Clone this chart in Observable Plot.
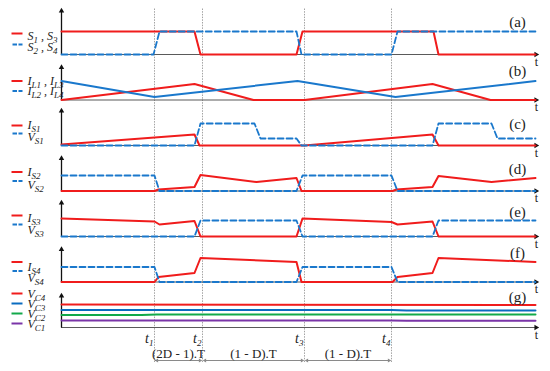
<!DOCTYPE html>
<html>
<head>
<meta charset="utf-8">
<script src="https://cdn.jsdelivr.net/npm/d3@7"></script>
<script src="https://cdn.jsdelivr.net/npm/@observablehq/plot@0.6"></script>
<style>
  html, body { margin: 0; padding: 0; background: #fff; }
  #chart svg { display: block; }
  #chart svg text { font-family: "Liberation Serif", "DejaVu Serif", serif; }
</style>
</head>
<body>
<div id="chart"></div>
<script>
// ---------- data (time in arbitrary units, levels in arbitrary units above each baseline) ----------
const panels = ["(a)", "(b)", "(c)", "(d)", "(e)", "(f)", "(g)"];

// (a) gate signals
const s13 = [[0,23],[133,23],[139,0],[235,0],[241,23],[372,23],[377,0],[474,0]];
const s24 = [[0,0],[92,0],[98,23],[235,23],[240,0],[330,0],[336,23],[474,23]];
// (b) inductor currents
const iL13 = [[0,0],[133,16],[192,0],[243,0],[371,16],[429,0],[474,0]];
const iL24 = [[0,19],[93,3],[236,19],[334,3],[474,19]];
// (c) switch 1
const iS1 = [[0,1],[133,11],[138,0],[243,0],[371,11],[377,0],[474,0]];
const vS1 = [[0,0],[133,0],[139,22],[193,22],[199,7],[235,7],[240,0],[371,0],[377,22],[430,22],[436,7],[474,7]];
// (d) switch 2
const iS2 = [[0,0],[93,0],[97,1.5],[133,4],[139,16],[195,9],[235,13],[240,0],[331,0],[335,1.5],[371,4],[377,15],[430,9],[474,13]];
const vS2 = [[0,15.5],[93,15.5],[98,0],[235,0],[241,15.5],[330,15.5],[336,0],[474,0]];
// (e) switch 3
const iS3 = [[0,18],[93,15],[98,12],[133,15.5],[139,0],[235,0],[241,18],[330,14.5],[336,12],[371,15],[377,0],[474,0]];
const vS3 = [[0,0],[133,0],[139,16],[235,16],[241,0],[371,0],[377,16],[474,16]];
// (f) switch 4
const iS4 = [[0,0],[93,0],[97,5],[133,9],[139,24],[235,20],[240,0],[331,0],[336,5],[371,9],[377,24],[474,20]];
const vS4 = [[0,15],[93,15],[98,0],[235,0],[241,15],[330,15],[336,0],[474,0]];
// (g) capacitor voltages
const vC4 = [[0,23],[474,22.5]];
const vC3 = [[0,17.5],[330,17.5],[345,17],[474,17]];
const vC2 = [[0,12.5],[80,12.5],[95,13],[474,13]];
const vC1 = [[0,7],[330,7],[345,6.7],[474,6.7]];

// time instants and intervals
const markerNames = ["t_{1}", "t_{2}", "t_{3}", "t_{4}"];
const markerTimes = [93, 141, 243, 330];
const intervalLabels = ["(2D - 1).T", "(1 - D).T", "(1 - D).T"];

// legend labels per panel
const legendLabels = [
  ["S_{1} , S_{3}", "S_{2} , S_{4}"],
  ["I_{L1} , I_{L3}", "I_{L2} , I_{L4}"],
  ["I_{S1}", "V_{S1}"],
  ["I_{S2}", "V_{S2}"],
  ["I_{S3}", "V_{S3}"],
  ["I_{S4}", "V_{S4}"],
  ["V_{C4}", "V_{C3}", "V_{C2}", "V_{C1}"]
];

// ---------- styling ----------
const RED = "#f01c1c", BLUE = "#1a78cc", DBLUE = "#0a6cc0", GREEN = "#12a94a", PURPLE = "#7a35a8";
const legendLineLevels = [[21,10],[19,9],[20,12],[19,10],[21,12],[20,11],[34,24,14,4]];
const legendTextLevels = [[18.5,7.5],[19,8.5],[20,8],[19,6],[18,6],[15,4],[33,23,13,3]];
const panelLabelLevels = [32, 29, 21, 22, 24, 29, 30];
const axisTops = [45, 34, 36, 34, 35, 34, 33];

const seriesDefs = [
  ["(a)", s13, RED, false], ["(a)", s24, BLUE, true],
  ["(b)", iL13, RED, false], ["(b)", iL24, BLUE, false],
  ["(c)", iS1, RED, false], ["(c)", vS1, BLUE, true],
  ["(d)", iS2, RED, false], ["(d)", vS2, BLUE, true],
  ["(e)", iS3, RED, false], ["(e)", vS3, BLUE, true],
  ["(f)", iS4, RED, false], ["(f)", vS4, BLUE, true],
  ["(g)", vC4, RED, false], ["(g)", vC3, DBLUE, false], ["(g)", vC2, GREEN, false], ["(g)", vC1, PURPLE, false]
];
const rows = seriesDefs.flatMap(([panel, pts, color, dashed], k) =>
  pts.map(([t, v]) => ({panel, t, v, key: k, color, dashed})));

const legendColors = [[RED, BLUE],[RED, BLUE],[RED, BLUE],[RED, BLUE],[RED, BLUE],[RED, BLUE],[RED, DBLUE, GREEN, PURPLE]];
const legendDashed = [[false, true],[false, true],[false, true],[false, true],[false, true],[false, true],[false,false,false,false]];
const legendRows = panels.flatMap((panel, i) => legendLabels[i].map((label, j) => ({
  panel, label, level: legendLineLevels[i][j], textLevel: legendTextLevels[i][j],
  color: legendColors[i][j], dashed: legendDashed[i][j]
})));

const markerRows = markerNames.map((name, i) => ({name, t: markerTimes[i]}));
const intervalRows = intervalLabels.map((label, i) => ({label, t1: markerTimes[i], t2: markerTimes[i + 1]}));
const panelRows = panels.map((p, i) => ({panel: p, level: panelLabelLevels[i], top: axisTops[i]}));

const G = () => "(g)";
const SERIF = "Liberation Serif";

const plot = Plot.plot({
  width: 550,
  height: 371,
  marginTop: 8.5,
  marginBottom: 44,
  marginLeft: 61,
  marginRight: 12,
  facet: {marginTop: 0, marginRight: 0, marginBottom: 0, marginLeft: 0},
  x: {domain: [0, 477], axis: null},
  y: {domain: [0, 45.5], axis: null},
  fy: {domain: panels, padding: 0, round: false, axis: null, label: null},
  color: {type: "identity"},
  style: {background: "white", fontFamily: SERIF, overflow: "visible"},
  marks: [
    // dotted time instants
    Plot.ruleX(markerTimes, {x: d => d, stroke: "#a3a3a3", strokeWidth: 1, strokeDasharray: "1.5,1.2"}),
    Plot.ruleX(markerTimes, {x: d => d, y1: -35, y2: 0, fy: G, stroke: "#a3a3a3", strokeWidth: 1, strokeDasharray: "1.5,1.2"}),
    // horizontal time axes
    Plot.ruleY([0], {x1: 0, x2: 474, stroke: "#5a5a5a", strokeWidth: 1.2}),
    Plot.dot([0], {x: 474.5, y: 0, symbol: "triangle2", r: 2.6, fill: "#111", rotate: 90}),
    Plot.text(["t"], {x: 475, y: -7.5, text: d => d, fontSize: 12, fontFamily: SERIF, fill: "#222"}),
    // vertical axes
    Plot.link(panelRows, {x1: 0, x2: 0, y1: 0, y2: d => d.top - 2, fy: "panel", stroke: "#111", strokeWidth: 1.3}),
    Plot.dot(panelRows, {x: 0, y: d => d.top - 1.5, fy: "panel", symbol: "triangle2", r: 2.6, fill: "#111"}),
    // waveforms
    Plot.line(rows.filter(d => !d.dashed), {x: "t", y: "v", fy: "panel", z: "key", stroke: "color", strokeWidth: 2}),
    Plot.line(rows.filter(d => d.dashed), {x: "t", y: "v", fy: "panel", z: "key", stroke: "color", strokeWidth: 1.8, strokeDasharray: "6,3"}),
    // panel labels
    Plot.text(panelRows, {x: 456, y: "level", fy: "panel", text: "panel", fontSize: 15, fontFamily: SERIF, fill: "#222"}),
    // legends
    Plot.link(legendRows.filter(d => !d.dashed), {x1: -50, x2: -39, y1: "level", y2: "level", fy: "panel", stroke: "color", strokeWidth: 2}),
    Plot.link(legendRows.filter(d => d.dashed), {x1: -49, x2: -39, y1: "level", y2: "level", fy: "panel", stroke: "color", strokeWidth: 2, strokeDasharray: "4.5,1.5"}),
    Plot.text(legendRows, {x: -34, y: "textLevel", fy: "panel", text: "label", textAnchor: "start", fontSize: 12, fontStyle: "italic", fontFamily: SERIF, fill: "#222"}),
    // time instant labels
    Plot.text(markerRows, {x: "t", y: -11.5, fy: G, text: "name", textAnchor: "end", dx: -1, fontSize: 14, fontStyle: "italic", fontFamily: SERIF, fill: "#222"}),
    // interval arrows
    Plot.link(intervalRows, {x1: d => d.t1 + 2, x2: d => d.t2 - 2, y1: -33, y2: -33, fy: G, stroke: "#8a8a8a", strokeWidth: 1}),
    Plot.dot(intervalRows, {x: d => d.t1 + 2.5, y: -33, fy: G, symbol: "triangle2", r: 1.9, fill: "#8a8a8a", rotate: -90}),
    Plot.dot(intervalRows, {x: d => d.t2 - 2.5, y: -33, fy: G, symbol: "triangle2", r: 1.9, fill: "#8a8a8a", rotate: 90}),
    Plot.text(intervalRows, {x: d => (d.t1 + d.t2) / 2, y: -26.5, fy: G, text: "label", fontSize: 13, fontFamily: SERIF, fill: "#222"})
  ]
});

// turn "_{...}" into subscripts
function applySubscripts(svg) {
  svg.querySelectorAll("text").forEach(el => {
    const s = el.textContent;
    if (!s.includes("_{")) return;
    el.textContent = "";
    const re = /_\{([^}]*)\}/g;
    let last = 0, m, shifted = false;
    const add = (txt, sub) => {
      const ts = document.createElementNS("http://www.w3.org/2000/svg", "tspan");
      ts.textContent = txt;
      if (sub) { ts.setAttribute("font-size", "9"); if (!shifted) ts.setAttribute("dy", "3"); shifted = true; }
      else if (shifted) { ts.setAttribute("dy", "-3"); shifted = false; }
      el.appendChild(ts);
    };
    while ((m = re.exec(s))) {
      if (m.index > last) add(s.slice(last, m.index), false);
      add(m[1], true);
      last = m.index + m[0].length;
    }
    if (last < s.length) add(s.slice(last), false);
  });
}
applySubscripts(plot);
document.getElementById("chart").appendChild(plot);
</script>
</body>
</html>
